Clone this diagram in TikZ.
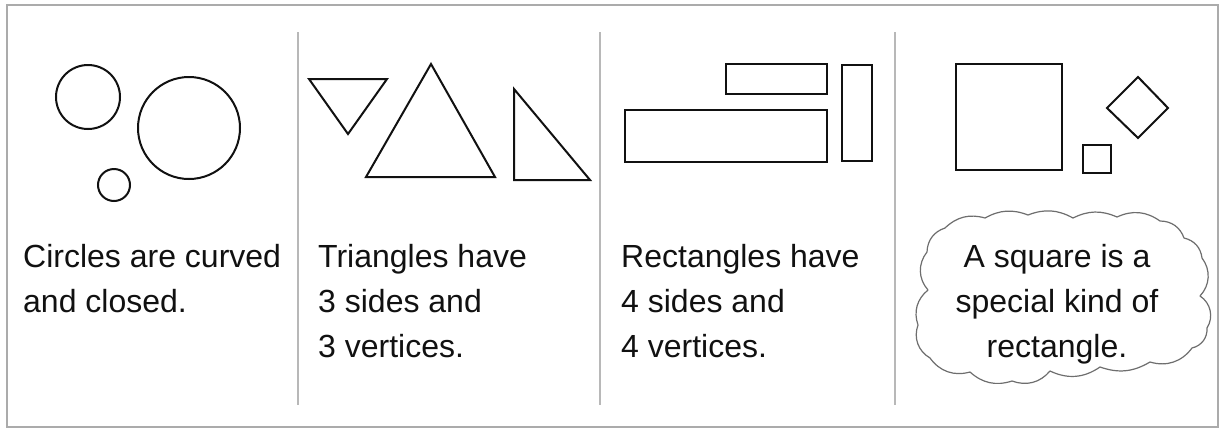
\documentclass[tikz,border=0pt]{standalone}
\usepackage{fontspec}
\setmainfont{Liberation Sans}
\definecolor{framegray}{HTML}{ABABAB}
\definecolor{divgray}{HTML}{B8B8B8}
\definecolor{inkc}{HTML}{111111}
\definecolor{cloudgray}{HTML}{6E6E6E}
\begin{document}
\begin{tikzpicture}[x=1pt,y=-1pt,
  shape line/.style={draw=inkc,line width=2pt,line join=miter},
  caption/.style={font=\fontsize{32}{45}\selectfont,text=inkc,inner sep=0pt,align=left,anchor=north west},
  frameline/.style={draw=framegray,line width=2pt},
  divline/.style={draw=divgray,line width=1.6pt},
  cloudline/.style={draw=cloudgray,line width=1.2pt,line join=round},
  puff/.style={bend left=#1}]
\useasboundingbox (0,0) rectangle (1223,429);
\fill[white] (0,0) rectangle (1223,429);
% frame
\draw[frameline] (7,5) rectangle (1218,427);
% dividers
\coordinate (d1t) at (298,32); \coordinate (d1b) at (298,405);
\coordinate (d2t) at (600,32); \coordinate (d2b) at (600,405);
\coordinate (d3t) at (895,32); \coordinate (d3b) at (895,405);
\draw[divline] (d1t) -- (d1b);
\draw[divline] (d2t) -- (d2b);
\draw[divline] (d3t) -- (d3b);
% circles
\draw[shape line] (88,97) circle[radius=32];
\draw[shape line] (189,128) circle[radius=51];
\draw[shape line] (114,185) circle[radius=16];
% triangles
\draw[shape line] (309,79) -- (387,79) -- (348,134) -- cycle;
\draw[shape line] (431,64) -- (495,177) -- (366,177) -- cycle;
\draw[shape line] (514,89) -- (590,180) -- (514,180) -- cycle;
% rectangles
\draw[shape line] (726,64) rectangle (827,94);
\draw[shape line] (625,110) rectangle (827,162);
\draw[shape line] (842,65) rectangle (872,161);
% squares
\draw[shape line] (956,64) rectangle (1062,170);
\draw[shape line] (1083,145) rectangle (1111,173);
\draw[shape line] (1138,77) -- (1168,108) -- (1138,138) -- (1107,108) -- cycle;
% cloud
\draw[cloudline] (927,252)
  to[puff=35] (945,228)
  to[puff=30] (985,218)
  to[puff=25] (1028,215)
  to[puff=25] (1073,218)
  to[puff=25] (1117,217)
  to[puff=30] (1160,221)
  to[puff=35] (1184,238)
  to[puff=35] (1202,258)
  to[puff=40] (1200,296)
  to[puff=45] (1207,328)
  to[puff=40] (1192,348)
  to[puff=35] (1150,362)
  to[puff=25] (1100,367)
  to[puff=30] (1050,371)
  to[puff=35] (1012,381)
  to[puff=30] (970,372)
  to[puff=35] (930,358)
  to[puff=40] (918,325)
  to[puff=35] (928,290)
  to[puff=40] cycle;
% captions
\node[caption] (t1) at (23,244.5) {Circles are curved\\and closed.};
\node[caption] (t2) at (318,244.5) {Triangles have\\3 sides and\\3 vertices.};
\node[caption] (t3) at (621,244.5) {Rectangles have\\4 sides and\\4 vertices.};
\node[caption,align=center,anchor=north] (t4) at (1057,244.5) {A square is a\\special kind of\\rectangle.};
\end{tikzpicture}
\end{document}
